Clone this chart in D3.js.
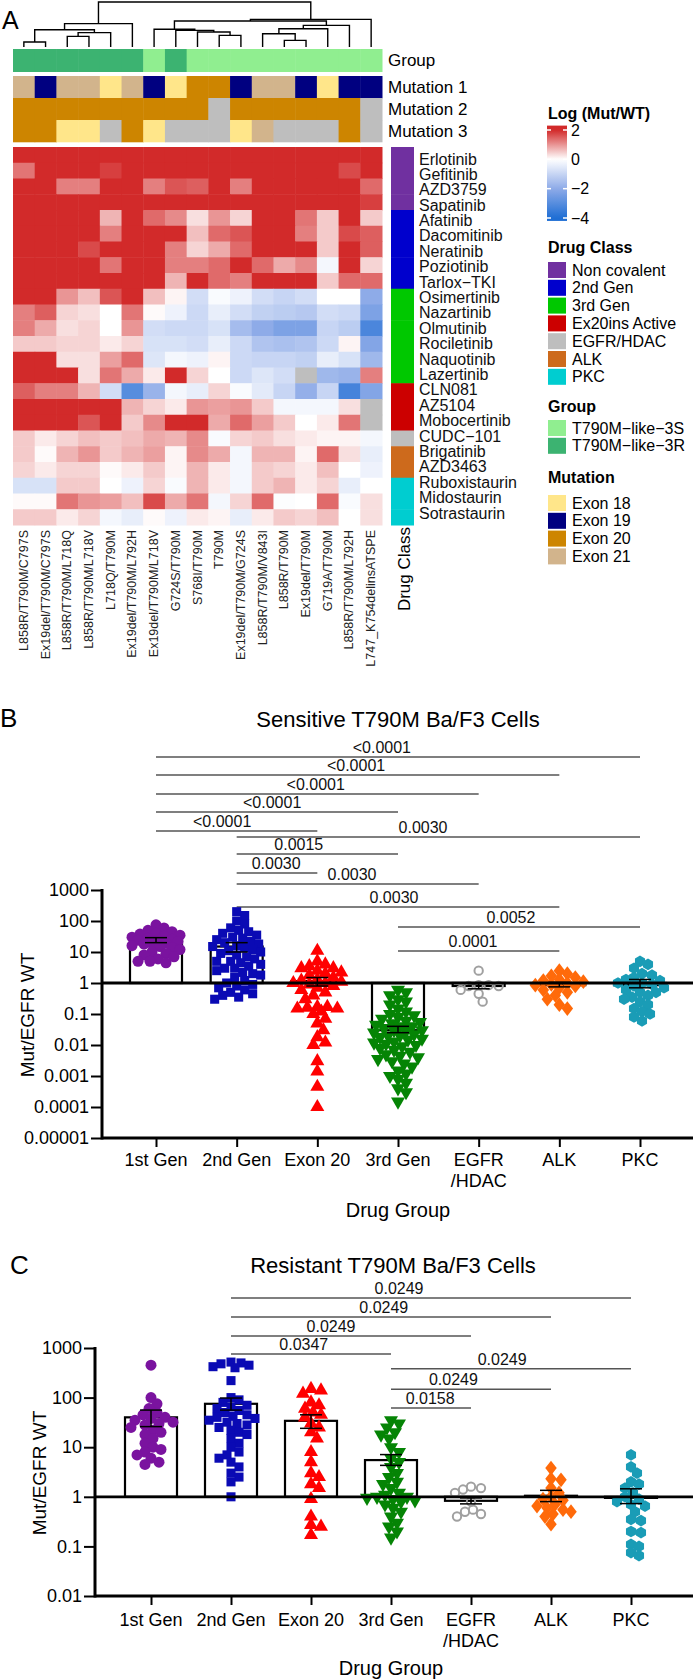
<!DOCTYPE html>
<html><head><meta charset="utf-8">
<script src="https://cdn.jsdelivr.net/npm/d3@7"></script>
<style>body{margin:0;background:#fff}svg{display:block}text{font-family:"Liberation Sans",Arial,sans-serif}</style>
</head><body><svg id="c" width="693" height="1680"></svg>
<script>
// ================= DATA =================
const drugs = ["Erlotinib","Gefitinib","AZD3759","Sapatinib","Afatinib","Dacomitinib","Neratinib","Poziotinib","Tarlox\u2212TKI","Osimertinib","Nazartinib","Olmutinib","Rociletinib","Naquotinib","Lazertinib","CLN081","AZ5104","Mobocertinib","CUDC\u2212101","Brigatinib","AZD3463","Ruboxistaurin","Midostaurin","Sotrastaurin"];
const drugClass = ["Non covalent","Non covalent","Non covalent","Non covalent","2nd Gen","2nd Gen","2nd Gen","2nd Gen","2nd Gen","3rd Gen","3rd Gen","3rd Gen","3rd Gen","3rd Gen","3rd Gen","Ex20ins Active","Ex20ins Active","Ex20ins Active","EGFR/HDAC","ALK","ALK","PKC","PKC","PKC"];
const mutants = ["L858R/T790M/C797S","Ex19del/T790M/C797S","L858R/T790M/L718Q","L858R/T790M/L718V","L718Q/T790M","Ex19del/T790M/L792H","Ex19del/T790M/L718V","G724S/T790M","S768I/T790M","T790M","Ex19del/T790M/G724S","L858R/T790M/V843I","L858R/T790M","Ex19del/T790M","G719A/T790M","L858R/T790M/L792H","L747_K754delinsATSPE"];
const groupRow = ["T790M\u2212like\u22123R","T790M\u2212like\u22123R","T790M\u2212like\u22123R","T790M\u2212like\u22123R","T790M\u2212like\u22123R","T790M\u2212like\u22123R","T790M\u2212like\u22123S","T790M\u2212like\u22123R","T790M\u2212like\u22123S","T790M\u2212like\u22123S","T790M\u2212like\u22123S","T790M\u2212like\u22123S","T790M\u2212like\u22123S","T790M\u2212like\u22123S","T790M\u2212like\u22123S","T790M\u2212like\u22123S","T790M\u2212like\u22123S"];
const mutation1 = ["Exon 21","Exon 19","Exon 21","Exon 21","Exon 18","Exon 21","Exon 19","Exon 18","Exon 20","Exon 20","Exon 19","Exon 21","Exon 21","Exon 19","Exon 18","Exon 19","Exon 19"];
const mutation2 = ["Exon 20","Exon 20","Exon 20","Exon 20","Exon 20","Exon 20","Exon 20","Exon 20","Exon 20",null,"Exon 20","Exon 20","Exon 20","Exon 20","Exon 20","Exon 20",null];
const mutation3 = ["Exon 20","Exon 20","Exon 18","Exon 18",null,"Exon 20","Exon 18",null,null,null,"Exon 18","Exon 21",null,null,null,"Exon 20",null];
const annoNames = ["Mutation 1","Mutation 2","Mutation 3"];
// log(Mut/WT), rows = drugs, columns = mutants
const heat = [
 [2.5,2.5,2.5,2.5,2.5,2.5,2.5,2.5,2.5,2.5,2.5,2.5,2.5,2.5,2.5,2.5,2.5],
 [1.3,2.5,2.5,2.5,1.8,2.5,2.5,2.5,2.5,2.5,2.5,2.5,2.5,2.5,2.5,1.7,2.5],
 [2.5,2.5,1.2,1.2,2.2,2.5,1.2,1.6,1.5,2.5,1.2,2.0,2.0,2.0,2.0,2.0,1.4],
 [2.5,2.5,2.5,2.5,2.5,2.5,2.5,2.5,2.5,2.5,2.5,2.5,2.5,2.5,2.5,2.5,1.8],
 [2.5,2.5,2.5,2.5,0.7,2.5,1.4,1.1,0.3,1.0,0.4,2.5,2.5,1.3,0.5,2.5,0.5],
 [2.5,2.5,2.5,2.5,1.2,2.5,2.2,2.0,0.6,1.4,1.6,2.5,2.5,1.2,0.5,1.7,1.5],
 [2.5,2.5,2.5,1.7,2.5,2.5,2.5,1.2,0.4,0.8,1.4,2.5,2.5,2.5,0.5,2.5,1.5],
 [2.5,2.5,2.5,2.5,1.3,2.5,2.5,1.2,1.2,1.4,2.5,1.4,0.8,1.1,-0.2,2.5,0.4],
 [2.5,2.5,2.5,2.5,2.5,2.5,2.5,0.7,2.5,1.4,1.2,2.5,2.5,2.5,0.5,1.4,1.4],
 [2.5,2.5,1.0,0.6,1.6,2.5,0.6,0.1,-0.8,-0.1,-0.3,-0.8,-1.0,-0.8,0,0,-2.0],
 [1.2,1.5,0.4,0.3,0,1.3,0.05,-0.3,-0.9,-0.4,-0.8,-1.1,-1.2,-1.3,-0.8,-0.9,-2.3],
 [1.2,0.8,0.3,0.4,0,1.0,-0.8,-0.9,-0.9,-0.7,-1.6,-2.0,-2.3,-2.3,-1.0,-1.2,-3.2],
 [0.5,0.5,0.4,0.4,0.2,0.4,-0.7,-0.7,-0.8,-0.4,-0.9,-1.4,-1.5,-1.4,-0.9,0.1,-2.2],
 [2.5,2.5,0.3,0.3,0.9,1.4,-0.6,-0.2,-0.3,0.1,-0.9,-1.0,-1.0,-1.1,-0.4,-0.7,-1.7],
 [2.5,2.5,2.5,0.3,1.3,0.8,0.2,2.5,0.4,0,-0.9,-0.6,-0.8,null,-1.7,-1.8,1.2],
 [1.5,1.2,1.2,0.7,-0.8,-3.0,-1.8,-0.2,-0.4,0.4,-0.1,-0.5,-1.0,-1.9,-1.0,-3.3,-2.2],
 [2.5,2.5,2.5,2.5,2.5,0.7,0.4,0.2,1.0,0.9,1.0,0.5,-0.2,-0.2,-0.2,0.3,null],
 [2.5,2.5,2.5,1.6,2.5,0.5,1.1,2.5,2.0,0.8,1.4,0.9,0.5,0,0.2,1.3,null],
 [0.5,0.2,0.4,0.6,0.5,0.6,0.8,0.7,1.1,-0.1,0.4,0.5,0.3,0.2,0.1,0.1,-0.2],
 [0.5,0.05,0.7,1.0,0.5,0.7,0.9,0.1,1.1,0.8,-0.2,0.7,0.7,0.1,1.4,0.3,-0.4],
 [0.4,0.2,0.4,0.4,0.05,0.2,0.5,0.1,0.7,0.2,-0.2,0.5,0.4,0.2,0.6,0,-0.3],
 [-0.7,-0.7,0.5,0.5,0,-0.3,0.4,-0.1,0.7,0.2,-0.2,0.5,0.7,0.2,0.4,-0.4,0],
 [0.05,0.05,1.3,1.0,0.9,0.6,1.7,0.8,1.3,-0.2,0.4,1.4,-0.05,0,1.4,-0.1,0.3],
 [0.5,0.5,0.2,0.4,-0.2,-0.4,0.05,-0.3,0.2,0.1,-0.4,0.2,0.5,0.4,0.6,0,0.3]
];
// column dendrogram: [left, right, height] (leaves = column index)
const dendro = [
  [[[0,1,1.11],[[2,3,2.37],4,3.19],3.85],5,5.19],
  [[[6,[7,[8,[9,10,2.59],3.33],3.70],3.95],[[[11,[12,13,1.48],2.96],14,4.07],15,4.81],5.78],16,6.15],
  10];
const colorTicks = [2,0,-2,-4];
const colorTickLabels = ["2","0","\u22122","\u22124"];
const classNames = ["Non covalent","2nd Gen","3rd Gen","Ex20ins Active","EGFR/HDAC","ALK","PKC"];
const classColors = ["#7030a0","#0000cd","#00c800","#cc0000","#bebebe","#cd6a1c","#00cdd0"];
const groupNames = ["T790M\u2212like\u22123S","T790M\u2212like\u22123R"];
const groupColors = ["#90ee90","#3cb371"];
const exonNames = ["Exon 18","Exon 19","Exon 20","Exon 21"];
const exonColors = ["#ffe68a","#000080","#cd8500","#d2b48c"];

// panels B & C
const cats = ["1st Gen","2nd Gen","Exon 20","3rd Gen","EGFR/HDAC","ALK","PKC"];
const catLabels = [["1st Gen"],["2nd Gen"],["Exon 20"],["3rd Gen"],["EGFR","/HDAC"],["ALK"],["PKC"]];
const catColors = ["#7a139f","#0a0ab4","#ff0000","#058405","#a0a0a0","#ff6a0a","#1a9cb6"];
const catShapes = ["circle","square","triangle","triangleDown","openCircle","diamond","hexagon"];
const sensTicks = [1000,100,10,1,0.1,0.01,0.001,0.0001,0.00001];
const sensTickLabels = ["1000","100","10","1","0.1","0.01","0.001","0.0001","0.00001"];
const resTicks = [1000,100,10,1,0.1,0.01];
const resTickLabels = ["1000","100","10","1","0.1","0.01"];
const sensMeans = [24,15,1.15,0.03,0.8,0.85,0.85];
const sensSEM = [[20,29],[10,20],[0.8,1.5],[0.025,0.04],[0.65,0.95],[0.75,1.05],[0.7,1.3]];
const resMeans = [40,75,34,5.5,0.83,1.05,0.95];
const resSEM = [[26,56],[56,98],[24,45],[4.3,7.1],[0.72,0.95],[0.8,1.35],[0.73,1.45]];
const sens1st = [75,60,50,45,40,38,35,32,30,28,26,25,24,22,20,19,18,16,15,14,12,10,9,8,7,6,5,5,4.5];
const sens2nd = [200,150,100,80,60,50,45,40,35,30,28,25,22,20,18,16,15,14,12,11,10,9,8,7,6,5,5,4.5,4,3.5,3,3,2.5,2.2,2,1.8,1.5,1.2,1,0.9,0.8,0.7,0.6,0.5,0.45,0.4,0.35,0.3];
const sensEx20 = [11,5,4,3.5,3,3,2.5,2.2,2,1.8,1.5,1.3,1.2,1.1,1,1,0.9,0.8,0.7,0.6,0.5,0.4,0.3,0.17,0.17,0.16,0.15,0.15,0.12,0.1,0.07,0.05,0.03,0.018,0.012,0.01,0.003,0.0014,0.00045,0.0001];
const sens3rd = [0.6,0.5,0.4,0.3,0.25,0.2,0.15,0.12,0.1,0.09,0.08,0.07,0.06,0.055,0.05,0.045,0.04,0.04,0.035,0.03,0.03,0.028,0.025,0.022,0.02,0.02,0.018,0.016,0.015,0.013,0.012,0.011,0.01,0.009,0.008,0.007,0.006,0.005,0.0045,0.004,0.0035,0.003,0.0025,0.002,0.0015,0.0012,0.001,0.0008,0.0006,0.0004,0.0003,0.00015];
const sensEgfr = [2.5,0.85,0.85,0.8,0.8,0.6,0.45,0.25];
const sensAlk = [2.5,2,1.7,1.5,1.3,1.2,1.1,1,0.9,0.85,0.8,0.7,0.6,0.5,0.4,0.3,0.2,0.15];
const sensPkc = [5,4,3,2,1.8,1.5,1.3,1.2,1,1,0.9,0.8,0.7,0.6,0.5,0.5,0.4,0.35,0.3,0.25,0.2,0.15,0.12,0.1,0.08,0.06];
const res1st = [450,100,75,60,50,45,40,38,35,32,30,28,25,22,20,18,15,12,10,9,8,7,6,5,4.5];
const res2nd = [520,500,480,450,420,400,220,100,90,80,70,65,60,55,50,45,42,40,38,35,32,30,28,25,22,20,18,15,12,10,8,7,6,5,4,3,2.5,2,1];
const resEx20 = [150,140,120,80,70,60,50,45,40,30,25,20,15,8,5,3,2.5,1.8,1.5,0.9,0.4,0.27,0.25,0.17];
const res3rd = [35,30,25,20,18,15,10,8,6,5,4,3,2.5,2,1.8,1.5,1.2,1.1,1,1,0.95,0.9,0.85,0.8,0.7,0.6,0.5,0.4,0.3,0.25,0.2,0.15];
const resEgfr = [1.6,1.5,1.4,1.2,0.8,0.55,0.5,0.45,0.4];
const resAlk = [3.8,2.3,2.2,1.5,1.2,1,0.9,0.85,0.7,0.65,0.6,0.55,0.5,0.45,0.4,0.28];
const resPkc = [7,4,3,2,1.8,1.5,1.2,1,0.9,0.8,0.7,0.65,0.5,0.35,0.33,0.2,0.19,0.11,0.1,0.075,0.065];
// significance brackets: [from cat, to cat, height (log10 units), label position (cat index), text]
const sigSens = [[0,6,7.29,2.8,"<0.0001"],[0,5,6.71,2.48,"<0.0001"],[0,4,6.10,1.98,"<0.0001"],[0,3,5.52,1.44,"<0.0001"],[0,2,4.90,0.82,"<0.0001"],[1,6,4.71,3.31,"0.0030"],[1,3,4.16,1.77,"0.0015"],[1,2,3.55,1.49,"0.0030"],[1,4,3.19,2.43,"0.0030"],[1,5,2.45,2.95,"0.0030"],[3,6,1.81,4.40,"0.0052"],[3,5,1.03,3.93,"0.0001"]];
const sigRes = [[1,6,4.01,3.1,"0.0249"],[1,5,3.625,2.91,"0.0249"],[1,4,3.24,2.25,"0.0249"],[1,3,2.88,1.91,"0.0347"],[3,6,2.58,4.39,"0.0249"],[3,5,2.17,3.78,"0.0249"],[3,4,1.79,3.49,"0.0158"]];

// ================= DRAW =================
const svg = d3.select("#c");
svg.append("rect").attr("width",693).attr("height",1680).attr("fill","#fff");
const FONT = "Liberation Sans, Arial, sans-serif";
const naCol = "#bebebe";
const heatCol = d3.scaleLinear().domain([-4,-2,0,2]).range(["#1f6ed4","#8eabe8","#ffffff","#d22a2a"]).clamp(true);
const byName = (names, cols) => d3.scaleOrdinal().domain(names).range(cols);
const classC = byName(classNames, classColors), groupC = byName(groupNames, groupColors), exonC = byName(exonNames, exonColors);

svg.append("text").attr("x",2).attr("y",29).attr("font-size",25).text("A");

const colX = d3.scaleBand().domain(d3.range(mutants.length)).range([13,382]);
const rowY = d3.scaleBand().domain(drugs).range([147,525]);
const bw = colX.bandwidth(), bh = rowY.bandwidth();

// heat cells
const gH = svg.append("g");
heat.forEach((row,i)=>{
  gH.selectAll(null).data(row).join("rect")
    .attr("x",(d,j)=>colX(j)).attr("y",rowY(drugs[i]))
    .attr("width",bw+0.5).attr("height",bh+0.5)
    .attr("fill",d=>d==null?naCol:heatCol(d));
});
// annotation tracks
const grpY = d3.scaleBand().domain(["Group"]).range([49,72]);
const mutY = d3.scaleBand().domain(annoNames).range([76,142]);
svg.append("g").selectAll("rect").data(groupRow).join("rect")
  .attr("x",(d,j)=>colX(j)).attr("y",grpY("Group")).attr("width",bw+0.5).attr("height",grpY.bandwidth())
  .attr("fill",d=>groupC(d));
[mutation1,mutation2,mutation3].forEach((arr,k)=>{
  svg.append("g").selectAll("rect").data(arr).join("rect")
    .attr("x",(d,j)=>colX(j)).attr("y",mutY(annoNames[k])).attr("width",bw+0.5).attr("height",mutY.bandwidth()+0.3)
    .attr("fill",d=>d==null?naCol:exonC(d));
});
svg.append("text").attr("x",388).attr("y",grpY("Group")+grpY.bandwidth()/2).attr("dominant-baseline","central").attr("font-size",17).text("Group");
annoNames.forEach(n=>svg.append("text").attr("x",388).attr("y",mutY(n)+mutY.bandwidth()/2).attr("dominant-baseline","central").attr("font-size",17).text(n));

// dendrogram
const dh = d3.scaleLinear().domain([0,10]).range([47,2]);
const gD = svg.append("g").attr("fill","none").attr("stroke","#000").attr("stroke-width",1.4);
function node(n){
  if (typeof n === "number") return {x: colX(n)+bw/2, h:0};
  const a = node(n[0]), b = node(n[1]), h = n[2];
  gD.append("path").attr("d",`M${a.x},${dh(a.h)}V${dh(h)}H${b.x}V${dh(b.h)}`);
  return {x:(a.x+b.x)/2, h};
}
node(dendro);

// drug class bar
svg.append("g").selectAll("rect").data(drugs).join("rect")
  .attr("x",391).attr("y",d=>rowY(d)).attr("width",23).attr("height",bh+0.5)
  .attr("fill",(d,i)=>classC(drugClass[i]));
const labY = d3.scalePoint().domain(drugs).range([159,513]);
svg.append("g").selectAll("text").data(drugs).join("text")
  .attr("x",419).attr("y",d=>labY(d)).attr("dominant-baseline","central").attr("font-size",16).attr("fill","#111").text(d=>d);
// column labels
svg.append("g").selectAll("text").data(mutants).join("text")
  .attr("transform",(d,j)=>`translate(${colX(j)+bw/2},530) rotate(-90)`)
  .attr("text-anchor","end").attr("dominant-baseline","central").attr("font-size",12.5).attr("fill","#222").text(d=>d);
svg.append("text").attr("transform","translate(404,527) rotate(-90)").attr("text-anchor","end").attr("dominant-baseline","central").attr("font-size",17).text("Drug Class");

// legends
const bold = (x,y,t)=>svg.append("text").attr("x",x).attr("y",y).attr("dominant-baseline","central").attr("font-size",16).attr("font-weight","bold").text(t);
bold(548,113,"Log (Mut/WT)");
const lgS = d3.scaleLinear().domain([-4,2]).range([218,130]);
const grad = svg.append("defs").append("linearGradient").attr("id","cb").attr("x1",0).attr("x2",0).attr("y1",0).attr("y2",1);
const vTop = 2.3, vBot = -4.2;
d3.range(0,41).forEach(i=>{const v = vTop + (vBot-vTop)*i/40; grad.append("stop").attr("offset",i/40).attr("stop-color",heatCol(v));});
svg.append("rect").attr("x",547).attr("y",lgS(vTop)).attr("width",20).attr("height",lgS(vBot)-lgS(vTop)).attr("fill","url(#cb)");
colorTicks.forEach((t,i)=>{
  svg.append("line").attr("x1",547).attr("x2",551).attr("y1",lgS(t)).attr("y2",lgS(t)).attr("stroke","#fff").attr("stroke-width",1.5);
  svg.append("line").attr("x1",563).attr("x2",567).attr("y1",lgS(t)).attr("y2",lgS(t)).attr("stroke","#fff").attr("stroke-width",1.5);
  svg.append("text").attr("x",571).attr("y",lgS(t)).attr("dominant-baseline","central").attr("font-size",16).text(colorTickLabels[i]);
});
function legend(title, titleY, names, colors, y0){
  bold(548,titleY,title);
  const ly = d3.scalePoint().domain(names).range([y0, y0+17.8*(names.length-1)]);
  names.forEach((n,i)=>{
    svg.append("rect").attr("x",548).attr("y",ly(n)).attr("width",18).attr("height",16).attr("fill",colors[i]);
    svg.append("text").attr("x",572).attr("y",ly(n)+8).attr("dominant-baseline","central").attr("font-size",16).text(n);
  });
}
legend("Drug Class",247,classNames,classColors,262);
legend("Group",406,groupNames,groupColors,420);
legend("Mutation",477,exonNames,exonColors,495);

// ---------- symbols
function tri(down){return {draw(ctx,size){const s=Math.sqrt(size*4/Math.sqrt(3)),h=s*Math.sqrt(3)/2,k=down?-1:1;ctx.moveTo(-s/2,k*h/3);ctx.lineTo(s/2,k*h/3);ctx.lineTo(0,-k*2*h/3);ctx.closePath();}};}
const symDiamond = {draw(ctx,size){const w=Math.sqrt(size/2)*0.88,h=Math.sqrt(size/2)*1.13;ctx.moveTo(0,-h);ctx.lineTo(w,0);ctx.lineTo(0,h);ctx.lineTo(-w,0);ctx.closePath();}};
const symHex = {draw(ctx,size){const r=Math.sqrt(size/2.598);for(let i=0;i<6;i++){const a=Math.PI/3*i+Math.PI/6;const x=r*Math.cos(a),y=r*Math.sin(a);i?ctx.lineTo(x,y):ctx.moveTo(x,y);}ctx.closePath();}};
const shapeDef = {circle:[d3.symbolCircle,95],square:[d3.symbolSquare,82],triangle:[tri(false),85],triangleDown:[tri(true),85],openCircle:[d3.symbolCircle,55],diamond:[symDiamond,85],hexagon:[symHex,88]};

function swarm(vals, yS, cx, minD, maxOff){
  const pts = vals.map(v=>({v, y:yS(v)})).sort((a,b)=>a.y-b.y);
  const placed = [];
  pts.forEach(p=>{
    let chosen=null, best=-1, bestOff=0;
    for(let k=0;;k++){
      const off = k===0?0:(k%2?1:-1)*Math.ceil(k/2)*2;
      if (Math.abs(off)>maxOff) break;
      let md = Infinity;
      for(const q of placed){const d=Math.hypot(q.dx-off,q.y-p.y); if(d<md) md=d;}
      if (md>=minD){chosen=off;break;}
      if (md>best){best=md;bestOff=off;}
    }
    p.dx = chosen===null?bestOff:chosen; p.x = cx+p.dx; placed.push(p);
  });
  return pts;
}

function panel(c){
  const g = svg.append("g");
  const y = d3.scaleLog().domain([c.ticks[c.ticks.length-1], c.ticks[0]]).range(c.yRange);
  const x = d3.scalePoint().domain(cats).range(c.xRange);
  const idx = d3.scaleLinear().domain([0,cats.length-1]).range(c.xRange);
  const yBot = c.yRange[0], yTop = c.yRange[1];
  g.append("text").attr("x",c.letter[1]).attr("y",c.letter[2]).attr("font-size",26).text(c.letter[0]);
  g.append("text").attr("x",c.title[1]).attr("y",c.title[2]).attr("text-anchor","middle").attr("font-size",22).text(c.title[0]);
  // significance
  c.sig.forEach(s=>{
    const yy = y(Math.pow(10,s[2]));
    g.append("line").attr("x1",x(cats[s[0]])).attr("x2",x(cats[s[1]])).attr("y1",yy).attr("y2",yy).attr("stroke","#555").attr("stroke-width",1.5);
    g.append("text").attr("x",idx(s[3])).attr("y",yy-4).attr("text-anchor","middle").attr("font-size",16).attr("fill","#111").text(s[4]);
  });
  // bars
  const BW = 52;
  cats.forEach((cat,i)=>{
    const m = c.means[i];
    g.append("rect").attr("x",x(cat)-BW/2).attr("y",Math.min(y(m),y(1))).attr("width",BW).attr("height",Math.abs(y(m)-y(1)))
      .attr("fill","#fff").attr("stroke","#000").attr("stroke-width",2.2);
  });
  // points
  cats.forEach((cat,i)=>{
    const [type,size] = shapeDef[catShapes[i]];
    const pts = swarm(c.points[i], y, x(cat), 8.2, 25);
    const open = catShapes[i]==="openCircle";
    g.append("g").selectAll("path").data(pts).join("path")
      .attr("d",d3.symbol().type(type).size(size)())
      .attr("transform",d=>`translate(${d.x},${d.y})`)
      .attr("fill",open?"none":catColors[i]).attr("stroke",open?catColors[i]:"none").attr("stroke-width",open?2:0);
  });
  // baseline at 1
  g.append("line").attr("x1",c.axisX).attr("x2",693).attr("y1",y(1)).attr("y2",y(1)).attr("stroke","#000").attr("stroke-width",2.8);
  // error bars
  cats.forEach((cat,i)=>{
    const [lo,hi] = c.sem[i], cx = x(cat);
    const e = g.append("g").attr("stroke","#000").attr("stroke-width",1.5);
    e.append("line").attr("x1",cx).attr("x2",cx).attr("y1",y(lo)).attr("y2",y(hi));
    [lo,hi].forEach(v=>e.append("line").attr("x1",cx-11).attr("x2",cx+11).attr("y1",y(v)).attr("y2",y(v)));
  });
  // y axis
  const minor = [];
  const e0 = Math.round(Math.log10(c.ticks[c.ticks.length-1])), e1 = Math.round(Math.log10(c.ticks[0]));
  for(let e=e0;e<e1;e++) for(let k=2;k<10;k++) minor.push(k*Math.pow(10,e));
  const ga = g.append("g").attr("transform",`translate(${c.axisX},0)`);
  ga.call(d3.axisLeft(y).tickValues(minor).tickSize(5).tickSizeOuter(0).tickFormat(""));
  ga.call(d3.axisLeft(y).tickValues(c.ticks).tickSize(11).tickSizeOuter(0).tickPadding(2).tickFormat((d,i)=>c.tickLabels[i]));
  ga.selectAll(".domain").remove();
  ga.selectAll(".tick line").attr("stroke-width",2);
  ga.selectAll(".tick text").attr("font-size",18).attr("font-family",FONT).attr("fill","#000");
  g.append("line").attr("x1",c.axisX).attr("x2",c.axisX).attr("y1",yTop-1).attr("y2",yBot+1.5).attr("stroke","#000").attr("stroke-width",3);
  // x axis
  g.append("line").attr("x1",c.axisX).attr("x2",693).attr("y1",yBot).attr("y2",yBot).attr("stroke","#000").attr("stroke-width",3);
  const gx = g.append("g").attr("transform",`translate(0,${yBot})`);
  gx.call(d3.axisBottom(x).tickSize(9).tickFormat(""));
  gx.selectAll(".domain").remove();
  gx.selectAll(".tick line").attr("stroke-width",2);
  catLabels.forEach((lines,i)=>lines.forEach((t,k)=>{
    g.append("text").attr("x",x(cats[i])).attr("y",c.labY+21*k).attr("text-anchor","middle").attr("font-size",18).text(t);
  }));
  g.append("text").attr("x",c.dg[0]).attr("y",c.dg[1]).attr("text-anchor","middle").attr("font-size",20).text("Drug Group");
  g.append("text").attr("transform",`translate(${c.yTitle[0]},${c.yTitle[1]}) rotate(-90)`).attr("text-anchor","middle").attr("dominant-baseline","central").attr("font-size",19).text("Mut/EGFR WT");
}

panel({ticks:sensTicks,tickLabels:sensTickLabels,yRange:[1138,890],xRange:[156,640],axisX:102,
  letter:["B",0,727],title:["Sensitive T790M Ba/F3 Cells",398,727],sig:sigSens,
  means:sensMeans,sem:sensSEM,points:[sens1st,sens2nd,sensEx20,sens3rd,sensEgfr,sensAlk,sensPkc],
  labY:1166,dg:[398,1217],yTitle:[27,1015]});
panel({ticks:resTicks,tickLabels:resTickLabels,yRange:[1596,1348],xRange:[151,631],axisX:95,
  letter:["C",10,1274],title:["Resistant T790M Ba/F3 Cells",393,1273],sig:sigRes,
  means:resMeans,sem:resSEM,points:[res1st,res2nd,resEx20,res3rd,resEgfr,resAlk,resPkc],
  labY:1626,dg:[391,1675],yTitle:[39,1473]});
</script></body></html>
